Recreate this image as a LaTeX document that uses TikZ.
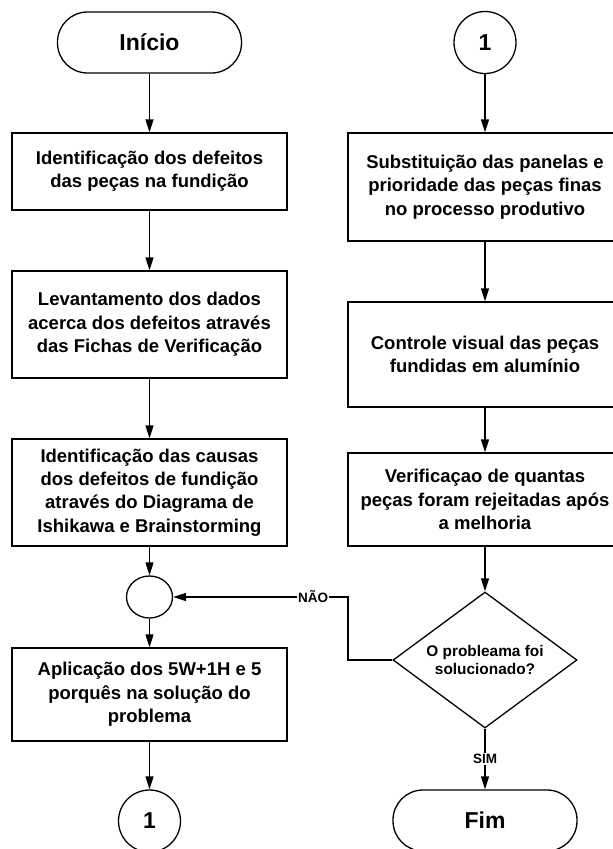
\documentclass[tikz,border=0pt]{standalone}
\usepackage{fontspec}
\setmainfont{Liberation Sans}
\usetikzlibrary{shapes.geometric,arrows.meta}
\begin{document}
\begin{tikzpicture}[x=1pt,y=-1pt,
  line width=1.3pt,
  proc/.style={draw, rectangle, minimum width=275pt, align=center, inner sep=0pt,
    font=\bfseries\fontsize{18.5}{23.3}\selectfont},
  term/.style={draw, rectangle, rounded corners=30pt, minimum width=184pt, minimum height=61pt,
    font=\bfseries\fontsize{23}{27}\selectfont},
  conn/.style={draw, circle, minimum size=62pt, inner sep=0pt,
    font=\bfseries\fontsize{23}{27}\selectfont},
  junc/.style={draw, ellipse, minimum width=46pt, minimum height=42pt, inner sep=0pt},
  dec/.style={draw, diamond, aspect=1.35, minimum width=184pt, minimum height=136pt, inner sep=0pt,
    align=center, font=\bfseries\fontsize{15.4}{18}\selectfont},
  arr/.style={-{Triangle[length=13pt,width=8pt]}},
  lbl/.style={fill=white, inner sep=1pt, font=\bfseries\fontsize{13.5}{15}\selectfont}
]
\useasboundingbox (0,0) rectangle (613,849);
\clip (0,0) rectangle (613,849);
\fill[white] (0,0) rectangle (613,849);

% left column
\node[term] (start) at (149.5,42.5) {Início};
\node[proc, minimum height=77pt] (b1) at (149.5,171.5) {Identificação dos defeitos\\das peças na fundição};
\node[proc, minimum height=107pt] (b2) at (149.5,324.5) {Levantamento dos dados\\acerca dos defeitos através\\das Fichas de Verificação};
\node[proc, minimum height=107pt] (b3) at (149.5,492.5) {Identificação das causas\\dos defeitos de fundição\\através do Diagrama de\\Ishikawa e Brainstorming};
\node[junc] (j) at (149.5,597) {};
\node[proc, minimum height=93pt] (b4) at (149.5,694.5) {Aplicação dos 5W+1H e 5\\porquês na solução do\\problema};
\node[conn] (c1) at (149.5,821) {1};

% right column
\node[conn] (c2) at (485,42.5) {1};
\node[proc, minimum width=274pt, minimum height=108pt] (r1) at (485,187) {Substituição das panelas e\\prioridade das peças finas\\no processo produtivo};
\node[proc, minimum width=274pt, minimum height=105pt] (r2) at (485,354.5) {Controle visual das peças\\fundidas em alumínio};
\node[proc, minimum width=274pt, minimum height=93pt] (r3) at (485,499.5) {Verificaçao de quantas\\peças foram rejeitadas após\\a melhoria};
\node[dec] (d) at (485,660) {O probleama foi\\solucionado?};
\node[term] (fim) at (485,820.5) {Fim};
\coordinate (k) at (348,597);

% connectors
\draw[arr] (start) -- (b1);
\draw[arr] (b1) -- (b2);
\draw[arr] (b2) -- (b3);
\draw[arr] (b3) -- (j);
\draw[arr] (j) -- (b4);
\draw[arr] (b4) -- (c1);
\draw[arr] (c2) -- (r1);
\draw[arr] (r1) -- (r2);
\draw[arr] (r2) -- (r3);
\draw[arr] (r3) -- (d);
\draw[arr] (d.west) -- (d.west -| k) -- (k) -- node[lbl, pos=0.2] {NÃO} (j.east);
\draw[arr] (d.south) -- node[lbl, pos=0.5] {SIM} (fim.north);
\end{tikzpicture}
\end{document}
